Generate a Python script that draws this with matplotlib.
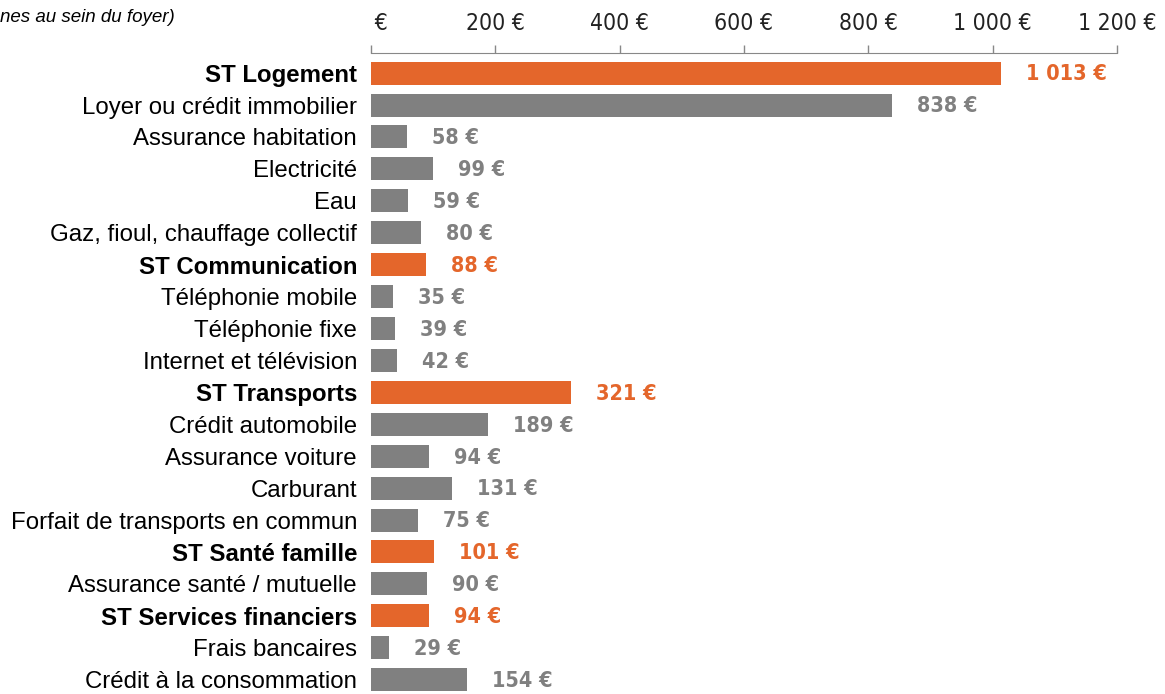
import matplotlib.pyplot as plt
import numpy as np

labels = [
    "ST Logement", "Loyer ou crédit immobilier", "Assurance habitation",
    "Electricité", "Eau", "Gaz, fioul, chauffage collectif",
    "ST Communication", "Téléphonie mobile", "Téléphonie fixe",
    "Internet et télévision", "ST Transports", "Crédit automobile",
    "Assurance voiture", "Carburant", "Forfait de transports en commun",
    "ST Santé famille", "Assurance santé / mutuelle",
    "ST Services financiers", "Frais bancaires", "Crédit à la consommation",
]
values = [1013, 838, 58, 99, 59, 80, 88, 35, 39, 42, 321, 189, 94, 131, 75,
          101, 90, 94, 29, 154]
is_subtotal = [lab.startswith("ST ") for lab in labels]
tick_vals = [0, 200, 400, 600, 800, 1000, 1200]
# the "0" of the first label is hidden in the original, keep its width
tick_labels = ["\u2007 €", "200 €", "400 €", "600 €", "800 €", "1 000 €", "1 200 €"]

ORANGE = "#e4662b"
GREY = "#808080"
NUM_FONT = ["DejaVu Sans", "Liberation Sans"]

plt.rcParams["font.family"] = ["Liberation Sans", "DejaVu Sans"]

fig = plt.figure(figsize=(11.65, 6.94), dpi=100)
ax = fig.add_axes([371 / 1165, 0.0, (1117 - 371) / 1165, 1 - 53 / 694])

y = np.arange(len(values))
colors = [ORANGE if st else GREY for st in is_subtotal]
ax.barh(y, values, height=0.72, color=colors)

ax.set_xlim(0, 1200)
ax.set_ylim(len(values) - 1 + 0.45, -0.63)

# value labels
for yi, v, st in zip(y, values, is_subtotal):
    txt = f"{v:,} €".replace(",", " ")
    ax.annotate(txt, (v, yi), xytext=(18, -1), textcoords="offset points",
                va="center", ha="left", fontsize=15.5, fontweight="bold",
                fontstretch="condensed", family=NUM_FONT,
                color=ORANGE if st else GREY)

# category labels
ax.set_yticks(y)
ax.set_yticklabels(labels, fontsize=17.3)
for lab, st in zip(ax.get_yticklabels(), is_subtotal):
    if st:
        lab.set_fontweight("bold")
    lab.set_verticalalignment("center_baseline")
ax.tick_params(axis="y", length=0, pad=10)

# x axis on top
ax.xaxis.tick_top()
ax.set_xticks(tick_vals)
ax.set_xticklabels(tick_labels, fontsize=16.5, color="#222222",
                   fontstretch="condensed", family=NUM_FONT)
ax.tick_params(axis="x", length=6, width=1, color="#888888", pad=7)
for side in ["left", "right", "bottom"]:
    ax.spines[side].set_visible(False)
ax.spines["top"].set_color("#888888")

fig.text(0.0, 1 - 17 / 694, "nes au sein du foyer)", fontsize=13.5,
         style="italic", va="center", ha="left")

fig.savefig("out.png", dpi=100)
